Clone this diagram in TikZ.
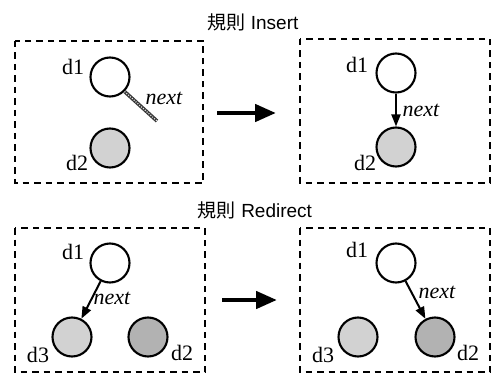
\documentclass[tikz,border=0pt]{standalone}
\usepackage{fontspec}
\setmainfont{Liberation Serif}
\setsansfont{Liberation Sans}
\newfontfamily\cjk{Noto Sans CJK JP}
\usetikzlibrary{arrows.meta}
\begin{document}
\begin{tikzpicture}[x=1pt,y=-1pt,
  dashbox/.style={line width=2.2pt, dash pattern=on 6.5pt off 5pt},
  obj/.style={circle, draw, line width=2.1pt, minimum size=39pt, inner sep=0pt},
  lightobj/.style={obj, fill=gray!35},
  darkobj/.style={obj, fill=gray!60},
  lbl/.style={font=\fontsize{22}{24}\selectfont, inner sep=0pt},
  nxt/.style={font=\fontsize{22}{24}\selectfont\itshape, inner sep=0pt},
  title/.style={font=\fontsize{19}{21}\selectfont\sffamily, inner sep=0pt},
  ptr/.style={line width=2pt, -{Triangle[length=12pt,width=9pt]}},
  bigarrow/.style={line width=4.5pt, -{Triangle[length=21pt,width=17pt]}}
]
\useasboundingbox (0,0) rectangle (492,374);

% ---- Rule Insert ----
\node[title] (t1) at (253,22) {{\cjk 規則} Insert};
\draw[dashbox] (15,41) rectangle (203,183);
\draw[dashbox] (300,39) rectangle (490,183);

\node[obj] (a1) at (110,77) {};
\node[lightobj] (a2) at (110,148) {};
\node[lbl] (la1) at (73,67) {d1};
\node[lbl] (la2) at (77,163) {d2};
\coordinate (aend) at (157,121);
\draw[line width=3.6pt, gray!45!black] (a1.-45) -- (aend);
\draw[line width=1.2pt, gray!20, dash pattern=on 1pt off 1.5pt] (a1.-45) -- (aend);
\node[nxt] (na) at (164,98) {next};

\coordinate (m1s) at (217,113);
\coordinate (m1e) at (276,113);
\draw[bigarrow] (m1s) -- (m1e);

\node[obj] (b1) at (396,73) {};
\node[lightobj] (b2) at (396,147) {};
\node[lbl] (lb1) at (357,65) {d1};
\node[lbl] (lb2) at (365,163) {d2};
\draw[ptr] (b1) -- (b2);
\node[nxt] (nb) at (421,110) {next};

% ---- Rule Redirect ----
\node[title] (t2) at (255,210) {{\cjk 規則} Redirect};
\draw[dashbox] (15,228) rectangle (205,372);
\draw[dashbox] (300,228) rectangle (490,372);

\node[obj] (c1) at (110,263) {};
\node[lightobj] (c3) at (72,337) {};
\node[darkobj] (c2) at (148,337) {};
\node[lbl] (lc1) at (73,252) {d1};
\node[lbl] (lc3) at (38,355) {d3};
\node[lbl] (lc2) at (182,353) {d2};
\draw[ptr] (c1) -- (c3);
\node[nxt] (nc) at (112,298) {next};

\coordinate (m2s) at (222,300);
\coordinate (m2e) at (277,300);
\draw[bigarrow] (m2s) -- (m2e);

\node[obj] (e1) at (396,263) {};
\node[lightobj] (e3) at (358,337) {};
\node[darkobj] (e2) at (435,337) {};
\node[lbl] (le1) at (357,250) {d1};
\node[lbl] (le3) at (323,355) {d3};
\node[lbl] (le2) at (468,353) {d2};
\draw[ptr] (e1) -- (e2);
\node[nxt] (ne) at (437,292) {next};
\end{tikzpicture}
\end{document}
